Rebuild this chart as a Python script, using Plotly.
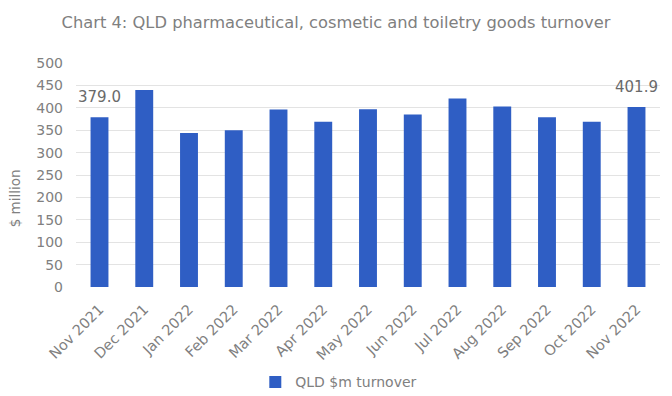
import plotly.graph_objects as go

months = ["Nov 2021", "Dec 2021", "Jan 2022", "Feb 2022", "Mar 2022", "Apr 2022",
          "May 2022", "Jun 2022", "Jul 2022", "Aug 2022", "Sep 2022", "Oct 2022", "Nov 2022"]
turnover = [379.0, 440.0, 344.0, 350.0, 396.0, 369.0, 397.0, 385.0, 421.0, 403.0, 379.0, 369.0, 401.9]
labelled = [0, len(months) - 1]
y_ticks = list(range(0, 501, 50))

text_grey = "#808080"
bar_blue = "#2f5ec4"
font_family = "DejaVu Sans, Verdana, sans-serif"

fig = go.Figure()
fig.add_trace(go.Bar(
    x=months, y=turnover, name="QLD $m turnover",
    marker=dict(color=bar_blue, line=dict(width=0)),
))

# value labels on the first and last month
annotations = [
    dict(x=months[i], y=turnover[i], xref="x", yref="y", text=f"{turnover[i]:.1f}",
         showarrow=False, yanchor="bottom", yshift=9,
         font=dict(size=15, color="#6a6a6a", family=font_family))
    for i in labelled
]
annotations.append(dict(text="$ million", xref="paper", yref="paper", x=-0.104, y=0.397,
                        textangle=-90, showarrow=False, xanchor="center", yanchor="middle",
                        font=dict(size=13.5, color=text_grey, family=font_family)))

fig.update_layout(
    width=672, height=396,
    margin=dict(l=76, r=12, t=63, b=109, autoexpand=False),
    paper_bgcolor="white", plot_bgcolor="white",
    font=dict(family=font_family, color=text_grey, size=14),
    bargap=0.6,
    showlegend=True,
    legend=dict(orientation="h", x=0.45, xanchor="center", y=-0.426, yanchor="middle",
                font=dict(size=14, color=text_grey), itemwidth=30),
    title=dict(text="Chart 4: QLD pharmaceutical, cosmetic and toiletry goods turnover",
               x=0.5, xanchor="center", y=1 - 22 / 396, yanchor="middle",
               font=dict(size=16.3, color=text_grey)),
    annotations=annotations,
)
fig.update_xaxes(tickangle=-45, showline=False, ticks="", showgrid=False, automargin=False,
                 tickfont=dict(size=14.5, color=text_grey), ticklabelstandoff=10)
fig.update_yaxes(range=[0, 500], tickvals=y_ticks, showline=False, ticks="", automargin=False,
                 showgrid=True, gridcolor="#e3e3e3", gridwidth=1, zeroline=False,
                 tickfont=dict(size=14, color=text_grey), ticklabelstandoff=12)

fig.write_html("out.html")
